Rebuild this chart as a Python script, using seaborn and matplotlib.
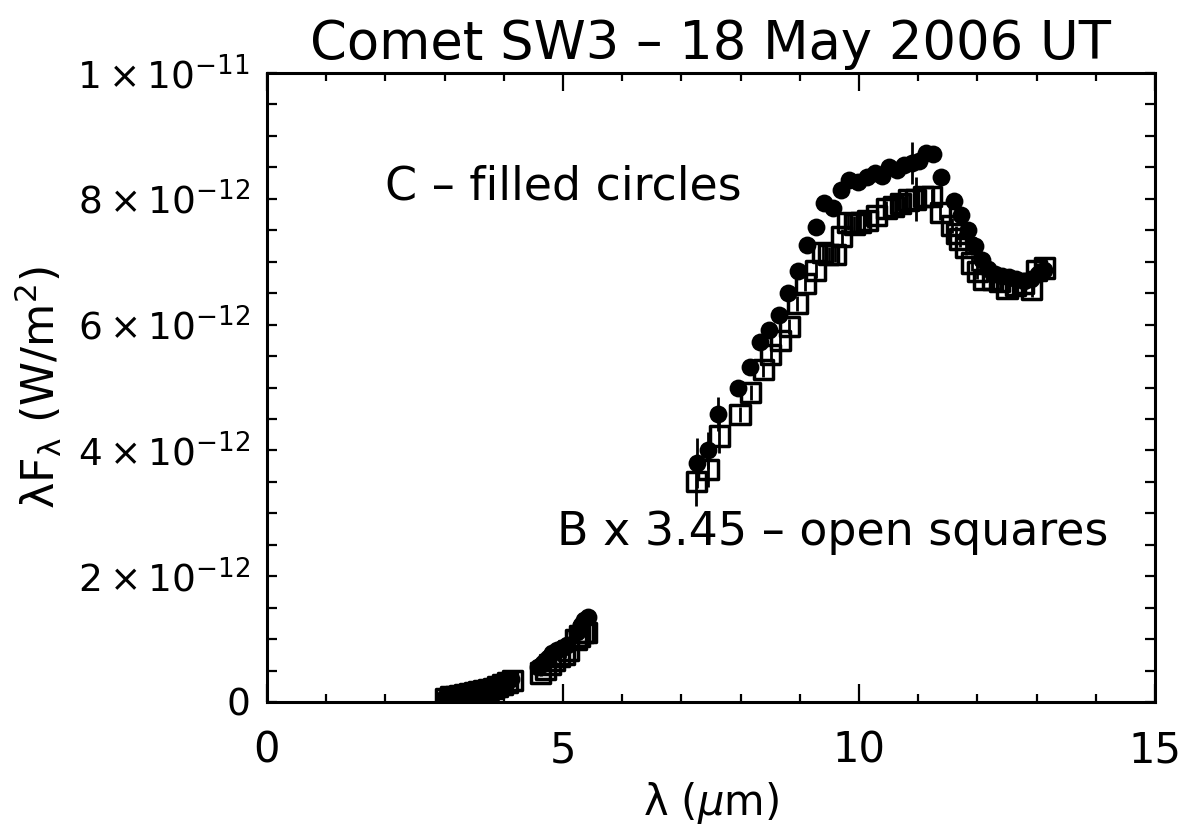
import numpy as np
import pandas as pd
import matplotlib
matplotlib.use("Agg")
import matplotlib.pyplot as plt
import seaborn as sns
from matplotlib.ticker import FixedLocator, FixedFormatter, MultipleLocator

# ---- data (flux in units of 1e-12 W/m^2) ----
c_wave = [3.00, 3.08, 3.16, 3.24, 3.32, 3.40, 3.48, 3.56, 3.64, 3.72, 3.80, 3.88, 3.96, 4.04, 4.12,
          4.58, 4.66, 4.74, 4.82, 4.90, 4.98, 5.06, 5.24, 5.30, 5.36, 5.42,
          7.26, 7.45, 7.62, 7.96, 8.16, 8.33, 8.48, 8.65, 8.80, 8.97, 9.12, 9.27, 9.41, 9.56,
          9.70, 9.83, 9.98, 10.13, 10.27, 10.39, 10.51, 10.64, 10.76, 10.90, 11.01, 11.13, 11.25,
          11.38, 11.60, 11.72, 11.84, 11.96, 12.07, 12.18, 12.30, 12.42, 12.54, 12.66, 12.78,
          12.90, 13.02, 13.12]
c_flux = [0.08, 0.10, 0.10, 0.12, 0.13, 0.14, 0.15, 0.17, 0.19, 0.21, 0.24, 0.26, 0.29, 0.32, 0.36,
          0.55, 0.62, 0.70, 0.78, 0.82, 0.86, 0.90, 1.12, 1.22, 1.30, 1.35,
          3.80, 4.00, 4.58, 5.00, 5.33, 5.72, 5.91, 6.15, 6.50, 6.86, 7.26, 7.55, 7.93, 7.86,
          8.14, 8.30, 8.26, 8.35, 8.41, 8.36, 8.50, 8.46, 8.54, 8.57, 8.60, 8.73, 8.71,
          8.34, 7.97, 7.74, 7.50, 7.25, 7.03, 6.88, 6.80, 6.78, 6.75, 6.72, 6.70,
          6.72, 6.80, 6.87]
c_err = [0.05] * 26 + [0.40, 0.30, 0.27] + [0.10] * 20 + [0.33] + [0.10] * 18

b_wave = [3.02, 3.10, 3.18, 3.26, 3.34, 3.42, 3.50, 3.58, 3.66, 3.74, 3.82, 3.90, 3.98, 4.06, 4.14,
          4.62, 4.70, 4.78, 4.86, 4.94, 5.03, 5.10, 5.22, 5.28, 5.34, 5.40,
          7.25, 7.45, 7.64, 7.99, 8.17, 8.38, 8.51, 8.67, 8.82, 8.96, 9.09, 9.27, 9.39, 9.49,
          9.60, 9.71, 9.81, 9.92, 10.02, 10.15, 10.30, 10.46, 10.58, 10.70, 10.84, 10.96, 11.09,
          11.23, 11.37, 11.57, 11.64, 11.70, 11.80, 11.91, 12.00, 12.10, 12.25, 12.38, 12.50,
          12.64, 12.77, 12.92, 13.00, 13.14]
b_flux = [0.06, 0.08, 0.09, 0.10, 0.12, 0.13, 0.15, 0.16, 0.18, 0.20, 0.22, 0.25, 0.28, 0.31, 0.34,
          0.46, 0.52, 0.59, 0.66, 0.72, 0.75, 0.82, 1.00, 1.05, 1.10, 1.10,
          3.51, 3.70, 4.23, 4.57, 4.92, 5.29, 5.52, 5.75, 5.97, 6.34, 6.66, 6.86, 7.14, 7.12,
          7.12, 7.40, 7.62, 7.60, 7.62, 7.66, 7.74, 7.85, 7.88, 7.93, 7.98, 7.99, 8.03,
          8.04, 7.78, 7.58, 7.45, 7.36, 7.22, 6.98, 6.84, 6.72, 6.72, 6.68, 6.58,
          6.62, 6.66, 6.56, 6.86, 6.90]
b_err = [0.05] * 26 + [0.40, 0.28, 0.27] + [0.12] * 22 + [0.35] + [0.12] * 18

y_ticks = [0, 2, 4, 6, 8, 10]
y_ticklabels = ['0', r'$2\times10^{-12}$', r'$4\times10^{-12}$', r'$6\times10^{-12}$',
                r'$8\times10^{-12}$', r'$1\times10^{-11}$']
x_ticks = [0, 5, 10, 15]
x_ticklabels = ['0', '5', '10', '15']

SCALE = 1e-12
dfc = pd.DataFrame({'wave': c_wave, 'flux': np.array(c_flux) * SCALE, 'err': np.array(c_err) * SCALE})
dfb = pd.DataFrame({'wave': b_wave, 'flux': np.array(b_flux) * SCALE, 'err': np.array(b_err) * SCALE})

sns.set_theme(style='ticks')
plt.rcParams['font.family'] = ['DejaVu Sans']
plt.rcParams['mathtext.fontset'] = 'dejavusans'
plt.rcParams['text.color'] = 'black'
plt.rcParams['axes.labelcolor'] = 'black'
plt.rcParams['xtick.color'] = 'black'
plt.rcParams['ytick.color'] = 'black'

fig = plt.figure(figsize=(11.9, 8.34), dpi=100)
ax = fig.add_axes([267 / 1190, 1 - 702 / 834, (1155 - 267) / 1190, (702 - 73) / 834])

# open squares (B)
ax.errorbar(dfb['wave'], dfb['flux'], yerr=dfb['err'], fmt='none', ecolor='black', elinewidth=2.0,
            capsize=0, zorder=2)
sns.scatterplot(data=dfb, x='wave', y='flux', marker='s', s=190, facecolor='none',
                edgecolor='black', linewidth=2.5, ax=ax, zorder=3)
# filled circles (C)
ax.errorbar(dfc['wave'], dfc['flux'], yerr=dfc['err'], fmt='none', ecolor='black', elinewidth=2.0,
            capsize=0, zorder=4)
sns.scatterplot(data=dfc, x='wave', y='flux', marker='o', s=165, color='black',
                edgecolor='black', linewidth=0, ax=ax, zorder=5)

ax.set_xlim(0, 15)
ax.set_ylim(0, 10 * SCALE)
ax.xaxis.set_major_locator(FixedLocator(x_ticks))
ax.xaxis.set_major_formatter(FixedFormatter(x_ticklabels))
ax.xaxis.set_minor_locator(MultipleLocator(1))
ax.yaxis.set_major_locator(FixedLocator([v * SCALE for v in y_ticks]))
ax.yaxis.set_major_formatter(FixedFormatter(y_ticklabels))
ax.yaxis.set_minor_locator(MultipleLocator(0.5 * SCALE))

ax.tick_params(axis='both', which='both', direction='in', top=True, right=True,
               color='black', width=1.6, labelcolor='black')
ax.tick_params(axis='x', which='major', length=13, labelsize=30, pad=20)
ax.tick_params(axis='x', which='minor', length=6)
ax.tick_params(axis='y', which='major', length=7, labelsize=27, pad=12)
ax.tick_params(axis='y', which='minor', length=7)

for sp in ax.spines.values():
    sp.set_visible(True)
    sp.set_linewidth(2.2)
    sp.set_color('black')

ax.set_xlabel(r'$\mathrm{\lambda}$ ($\mu$m)', fontsize=30, labelpad=6, color='black')
ax.set_ylabel(r'$\mathrm{\lambda F_\lambda}$ (W/m$^2$)', fontsize=32, labelpad=10, color='black')
ax.set_title('Comet SW3 – 18 May 2006 UT', fontsize=38, pad=10, color='black')

ax.text(2.0, 8.19 * SCALE, 'C – filled circles', fontsize=33, ha='left', va='center', color='black')
ax.text(4.9, 2.7 * SCALE, 'B x 3.45 – open squares', fontsize=33, ha='left', va='center', color='black')

ax.grid(False)
fig.savefig('out.png', dpi=100, facecolor='white')
